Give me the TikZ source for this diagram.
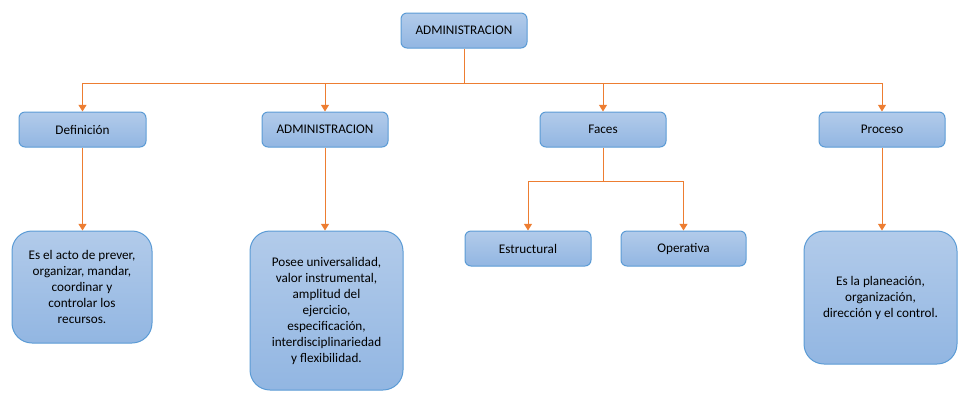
\documentclass[tikz,border=0pt]{standalone}
\usepackage{fontspec}
\setmainfont{Carlito}
\usetikzlibrary{arrows.meta}

\definecolor{boxtop}{RGB}{178,203,234}
\definecolor{boxbot}{RGB}{146,182,226}
\definecolor{boxline}{RGB}{91,155,213}
\definecolor{conn}{RGB}{237,125,49}

\tikzset{
  box/.style={draw=boxline,line width=0.75pt,top color=boxtop,bottom color=boxbot,
    rounded corners=4.5pt,inner sep=0pt,align=center,
    font=\fontsize{9.9}{12}\selectfont},
  bigbox/.style={box,rounded corners=15pt},
  wire/.style={draw=conn,line width=0.75pt},
  arr/.style={wire,-{Triangle[width=6pt,length=5pt]}}
}

\begin{document}
\begin{tikzpicture}[x=0.75pt,y=0.75pt,yscale=-1,xscale=1]
\useasboundingbox (0,0) rectangle (975,405);

% Text Node
\node (top) [box,minimum width=94.5pt,minimum height=26.25pt] at (464,30.5) {ADMINISTRACION};

% Text Node
\node (def) [box,minimum width=95.25pt,minimum height=26.25pt] at (82.5,129.5) {Definición};
% Text Node
\node (adm) [box,minimum width=94.5pt,minimum height=26.25pt] at (325,129.5) {ADMINISTRACION};
% Text Node
\node (faces) [box,minimum width=94.5pt,minimum height=26.25pt] at (603,129.5) {Faces};
% Text Node
\node (proc) [box,minimum width=94.5pt,minimum height=26.25pt] at (882,129.5) {Proceso};

% Text Node
\node (defT) [bigbox,minimum width=105pt,minimum height=84pt] at (82,287) {Es el acto de prever,\\organizar, mandar,\\coordinar y\\controlar los\\recursos.};
% Text Node
\node (admT) [bigbox,minimum width=114.75pt,minimum height=119.25pt] at (326.5,310.5) {Posee universalidad,\\valor instrumental,\\amplitud del\\ejercicio,\\especificación,\\interdisciplinariedad\\y flexibilidad.};
% Text Node
\node (est) [box,minimum width=94.5pt,minimum height=26.25pt] at (528,248.5) {Estructural};
% Text Node
\node (ope) [box,minimum width=93.75pt,minimum height=26.25pt] at (683.5,248.5) {Operativa};
% Text Node
\node (procT) [bigbox,minimum width=114.75pt,minimum height=99.75pt] at (880.5,297.5) {Es la planeación,\\organización,\\dirección y el control.};

% Junctions
\coordinate (jL) at (82.5,83);
\coordinate (jR) at (882,83);
\coordinate (fj) at (603,181);

%Straight Lines
\draw[wire] (top.south) -- (top.south |- jL);
\draw[wire] (jL) -- (jR);
\draw[arr] (jL) -- (def.north);
\draw[arr] (adm.north |- jL) -- (adm.north);
\draw[arr] (faces.north |- jL) -- (faces.north);
\draw[arr] (jR) -- (proc.north);

\draw[arr] (def.south) -- (def.south |- defT.north);
\draw[arr] (adm.south) -- (adm.south |- admT.north);
\draw[arr] (proc.south) -- (proc.south |- procT.north);

\draw[wire] (faces.south) -- (fj);
\draw[arr] (fj) -| (est.north);
\draw[arr] (fj) -| (ope.north);

\end{tikzpicture}
\end{document}
